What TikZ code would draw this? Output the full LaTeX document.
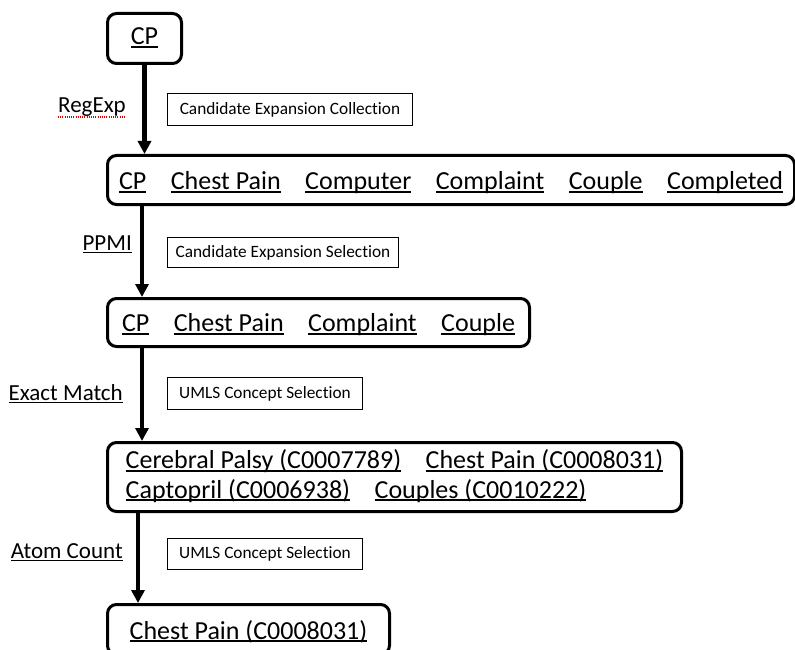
\documentclass[tikz,border=0pt]{standalone}
\usepackage{fontspec}
\setmainfont{Carlito}[Ligatures=NoCommon]
\usetikzlibrary{arrows.meta}
\newsavebox{\ulbox}
\newcommand{\ulin}[1]{\sbox{\ulbox}{#1}\rlap{\rule[-0.12em]{\wd\ulbox}{0.065em}}\usebox{\ulbox}}
\newcommand{\wgap}{\hspace{24.5pt}}
\begin{document}
\begin{tikzpicture}[x=1pt,y=-1pt,
  bigbox/.style={draw, line width=3pt, rounded corners=9pt, inner sep=0pt,
    font=\fontsize{26}{29.5}\selectfont, anchor=north west},
  smallbox/.style={draw, line width=1pt, inner sep=0pt,
    font=\fontsize{17.3}{20}\selectfont, anchor=north west},
  lbl/.style={inner sep=0pt, font=\fontsize{23}{26}\selectfont, anchor=base east},
  arr/.style={line width=4.3pt, -{Triangle[length=13pt,width=13pt]}},
]
\useasboundingbox (0,0) rectangle (795,650);

% main boxes
\node[bigbox, minimum width=74pt, minimum height=50pt, text height=12.6pt, text depth=0pt]
  (cp) at (106,12) {\ulin{CP}};
\node[bigbox, minimum width=687pt, minimum height=49pt, text height=19.6pt, text depth=0pt]
  (box2) at (106,154) {\ulin{CP}\wgap\ulin{Chest Pain}\wgap\ulin{Computer}\wgap\ulin{Complaint}\wgap\ulin{Couple}\wgap\ulin{Completed}};
\node[bigbox, minimum width=422pt, minimum height=48pt, text height=18pt, text depth=0pt]
  (box3) at (106,297) {\ulin{CP}\wgap\ulin{Chest Pain}\wgap\ulin{Complaint}\wgap\ulin{Couple}};
\node[bigbox, minimum width=574pt, minimum height=69pt, text height=42pt, text depth=0pt, align=left]
  (box4) at (106,441) {\ulin{Cerebral Palsy (C0007789)}\wgap\ulin{Chest Pain (C0008031)}\\
  \ulin{Captopril (C0006938)}\wgap\ulin{Couples (C0010222)}};
\node[bigbox, minimum width=282pt, minimum height=50pt, text height=19pt, text depth=0pt]
  (box5) at (106,603) {\ulin{Chest Pain (C0008031)}};

% step description boxes
\node[smallbox, minimum width=245pt, minimum height=32pt] (cec) at (167,93) {Candidate Expansion Collection};
\node[smallbox, minimum width=231pt, minimum height=30pt] (ces) at (167,237) {Candidate Expansion Selection};
\node[smallbox, minimum width=195pt, minimum height=32pt] (umlsa) at (167,377) {UMLS Concept Selection};
\node[smallbox, minimum width=195pt, minimum height=31pt] (umlsb) at (167,538) {UMLS Concept Selection};

% method labels
\node[lbl] (regexp) at (126,113) {RegExp};
\node[lbl] (ppmi) at (132,250.7) {\ulin{PPMI}};
\node[lbl] (exact) at (123,400.7) {\ulin{Exact Match}};
\node[lbl] (atom) at (123,558.3) {\ulin{Atom Count}};
\draw[red!85!black, line width=1.1pt, dash pattern=on 1.1pt off 1.1pt]
  ([yshift=-4pt]regexp.base west) -- ([yshift=-4pt]regexp.base east);

% arrows
\draw[arr] (cp.south) -- (cp.south |- box2.north);
\coordinate (a2) at ([xshift=36pt]box2.south west);
\draw[arr] (a2) -- (a2 |- box3.north);
\coordinate (a3) at ([xshift=36pt]box3.south west);
\draw[arr] (a3) -- (a3 |- box4.north);
\coordinate (a4) at ([xshift=32pt]box4.south west);
\draw[arr] (a4) -- (a4 |- box5.north);
\end{tikzpicture}
\end{document}
